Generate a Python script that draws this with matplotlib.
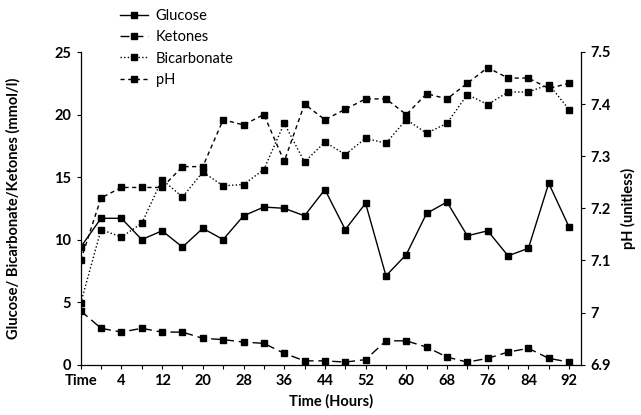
import matplotlib
matplotlib.use("Agg")
import matplotlib.pyplot as plt

plt.rcParams['font.family'] = ['Lato', 'DejaVu Sans']

# time points (hours), first one is the admission sample
time_labels = ["Time", "2", "4", "8", "12", "16", "20", "24", "28", "32", "36", "40", "44",
               "48", "52", "56", "60", "64", "68", "72", "76", "80", "84", "88", "92"]

glucose = [9.4, 11.7, 11.7, 10.0, 10.7, 9.4, 10.9, 10.0, 11.9, 12.6, 12.5, 11.9, 14.0,
           10.8, 12.9, 7.1, 8.8, 12.1, 13.0, 10.3, 10.7, 8.7, 9.3, 14.5, 11.0]
ketones = [4.3, 2.9, 2.6, 2.9, 2.6, 2.6, 2.1, 2.0, 1.8, 1.7, 0.9, 0.3, 0.3,
           0.2, 0.4, 1.9, 1.9, 1.4, 0.6, 0.2, 0.5, 1.0, 1.3, 0.5, 0.2]
bicarbonate = [4.9, 10.8, 10.2, 11.3, 14.8, 13.4, 15.4, 14.3, 14.4, 15.6, 19.3, 16.2, 17.8,
               16.8, 18.1, 17.7, 19.6, 18.5, 19.3, 21.6, 20.8, 21.8, 21.8, 22.4, 20.4]
ph = [7.10, 7.22, 7.24, 7.24, 7.24, 7.28, 7.28, 7.37, 7.36, 7.38, 7.29, 7.40, 7.37,
      7.39, 7.41, 7.41, 7.38, 7.42, 7.41, 7.44, 7.47, 7.45, 7.45, 7.43, 7.44]

left_ticks = [0, 5, 10, 15, 20, 25]
right_ticks = [6.9, 7.0, 7.1, 7.2, 7.3, 7.4, 7.5]
right_tick_labels = ["6.9", "7", "7.1", "7.2", "7.3", "7.4", "7.5"]

x = list(range(len(time_labels)))

W, H = 641, 415
fig = plt.figure(figsize=(W / 100, H / 100), dpi=100)
ax = fig.add_axes([80.7 / W, 1 - 364.6 / H, 500 / W, 312.6 / H])
ax2 = ax.twinx()

style = dict(color="black", lw=1.0, marker="s", ms=4.3, mfc="black", mec="black")
l1, = ax.plot(x, glucose, linestyle="-", label="Glucose", **style)
l2, = ax.plot(x, ketones, dashes=(6.5, 3.5), label="Ketones", **style)
l3, = ax.plot(x, bicarbonate, dashes=(1, 1.6), label="Bicarbonate", **style)
l4, = ax2.plot(x, ph, dashes=(3, 2.5), label="pH", **style)

ax.set_xlim(0, 24.57)
ax.set_ylim(0, 25)
ax2.set_ylim(6.9, 7.5)

ax.set_xticks(x)
ax.set_xticklabels([lab if i % 2 == 0 else "" for i, lab in enumerate(time_labels)],
                   fontweight="bold", fontsize=10.5)
ax.set_yticks(left_ticks)
ax.set_yticklabels([str(v) for v in left_ticks], fontweight="bold", fontsize=10.5)
ax2.set_yticks(right_ticks)
ax2.set_yticklabels(right_tick_labels, fontweight="bold", fontsize=10.5)

for a in (ax, ax2):
    a.spines["top"].set_visible(False)
    a.tick_params(direction="out", length=3, width=0.8, pad=4)
    for s in a.spines.values():
        s.set_linewidth(0.9)
ax.spines["right"].set_visible(False)
ax2.spines["left"].set_visible(False)
ax2.spines["bottom"].set_visible(False)

ax.set_xlabel("Time (Hours)", fontweight="bold", fontsize=10.5, labelpad=4)
ax.set_ylabel("Glucose/ Bicarbonate/Ketones (mmol/l)", fontweight="bold", fontsize=10.5)
ax.yaxis.set_label_coords(-60 / 500, 0.5)
ax2.set_ylabel("pH (unitless)", fontweight="bold", fontsize=10.5, rotation=90)
ax2.yaxis.set_label_coords(1 + 40 / 500, 0.5)

fig.legend(handles=[l1, l2, l3, l4], loc="upper left",
           bbox_to_anchor=(120 / W, 1 - 9 / H), frameon=False, fontsize=10.5,
           handlelength=1.95, handletextpad=0.5, labelspacing=0.5,
           borderpad=0, borderaxespad=0, numpoints=1)

fig.savefig("out.png", dpi=100)
